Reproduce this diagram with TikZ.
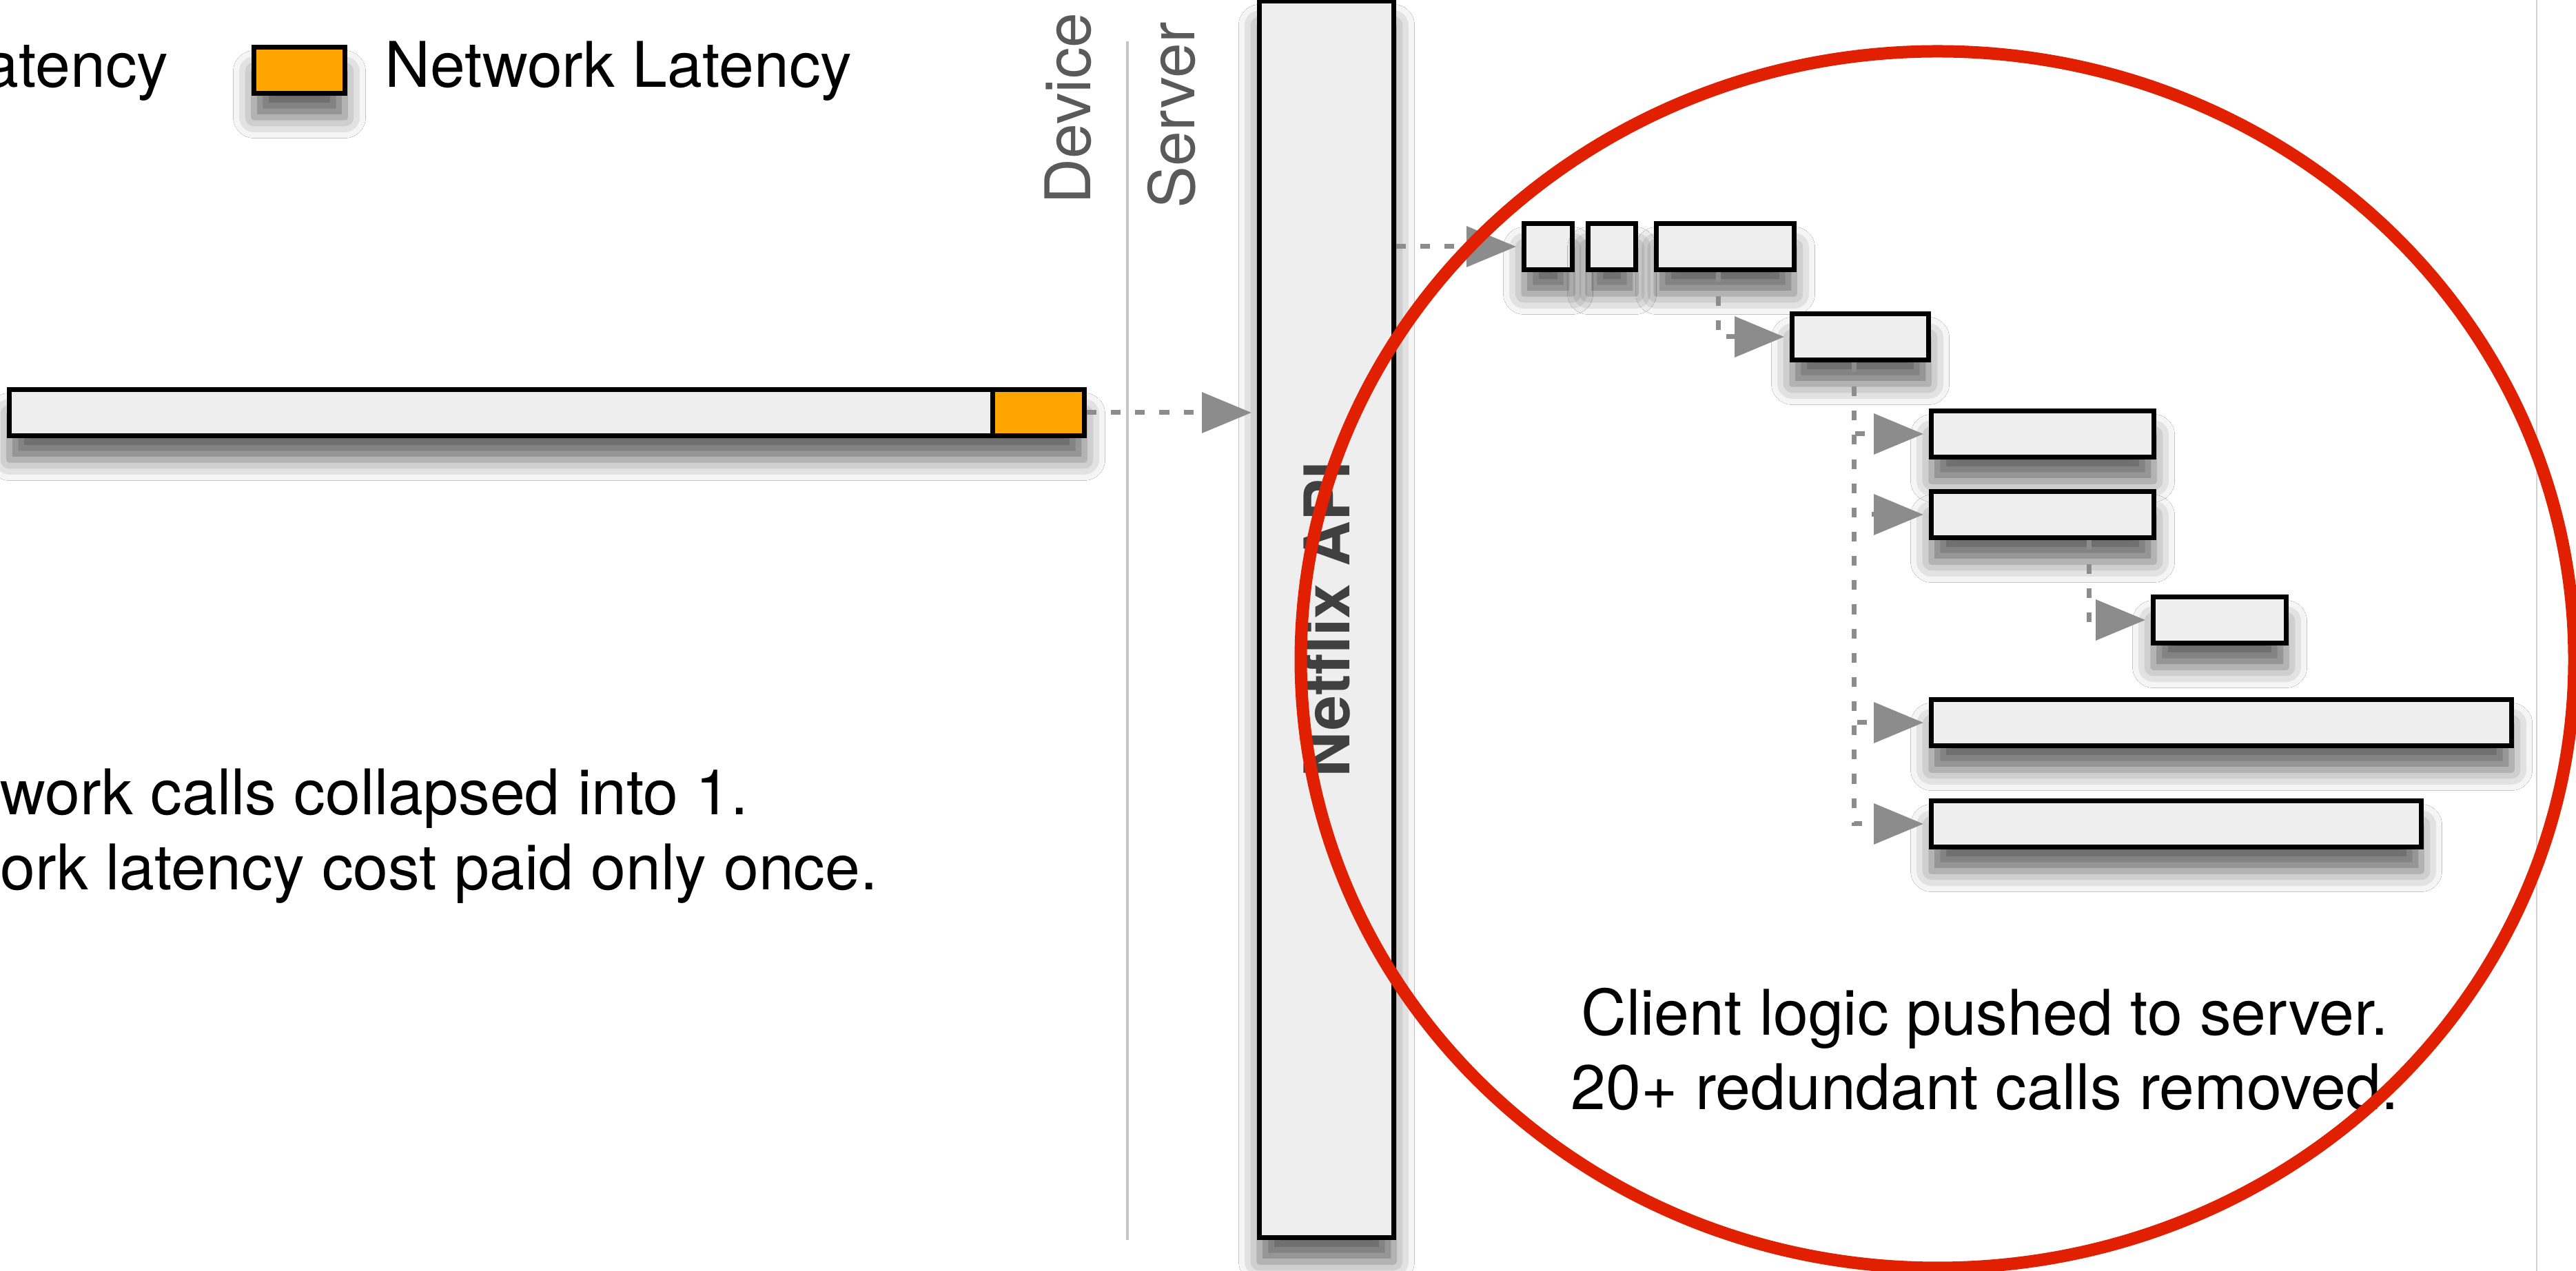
\documentclass[tikz,border=0pt]{standalone}
\usepackage{fontspec}
\setmainfont{TeX Gyre Heros}
\usetikzlibrary{arrows.meta,shadows.blur}
\definecolor{boxgray}{RGB}{238,238,238}
\definecolor{netorange}{RGB}{255,165,0}
\definecolor{linkgray}{RGB}{140,140,140}
\definecolor{circlered}{RGB}{224,32,0}
\definecolor{labelgray}{RGB}{90,90,90}
\tikzset{
 boxbase/.style={draw=black,line width=2pt,inner sep=0pt,minimum height=0.67cm,anchor=west},
 softshadow/.style={blur shadow={shadow xshift=0cm,shadow yshift=-0.35cm,shadow blur radius=0.3cm,shadow opacity=60}},
 callbox/.style={boxbase,fill=boxgray,softshadow},
 netbox/.style={boxbase,fill=netorange},
 link/.style={draw=linkgray,line width=2pt,dash pattern=on 4pt off 6pt,-{Triangle[length=0.72cm,width=0.58cm]},shorten >=0.08cm},
 caption/.style={font=\fontsize{26}{31}\selectfont,inner sep=0pt}
}
\begin{document}
\begin{tikzpicture}
 \clip (0,0) rectangle (37.38,18.45);
 \fill[white] (0,0) rectangle (37.38,18.45);
 \draw[gray!35,line width=0.8pt] (36.81,0) -- (36.81,18.45);
 % legend
 \node[caption,anchor=base east] (legclient) at (2.45,17.18) {atency};
 \node[netbox,softshadow,anchor=north west,minimum width=1.32cm] (legnet) at (3.65,17.80) {};
 \node[caption,anchor=base west] (legtext) at (5.58,17.18) {Network Latency};
 % device / server
 \draw[gray!45,line width=1.2pt] (16.36,17.85) -- (16.36,0.45);
 \node[caption,rotate=90,anchor=base west,text=labelgray] (device) at (15.82,15.48) {Device};
 \node[caption,rotate=90,anchor=base west,text=labelgray] (server) at (17.33,15.42) {Server};
 \node[callbox,anchor=south west,minimum width=1.95cm,minimum height=17.95cm] (api) at (18.24,0.45) {};
 \node[caption,rotate=90,font=\bfseries\fontsize{26}{31}\selectfont,text=black!75] (apilabel) at (api.center) {Netflix API};
 % single call from the device
 \node[callbox,minimum width=15.60cm] (devcall) at (0.10,12.46) {};
 \node[netbox,anchor=east,minimum width=1.33cm] (netcall) at (devcall.east) {};
 \draw[link] (devcall.east) -- (api.west |- devcall.east);
 % calls on the server
 \node[callbox,minimum width=0.70cm] (c1) at (22.08,14.87) {};
 \node[callbox,minimum width=0.69cm] (c2) at (23.01,14.87) {};
 \node[callbox,minimum width=2.00cm] (c3) at (24.00,14.87) {};
 \node[callbox,minimum width=1.98cm] (c4) at (25.97,13.56) {};
 \node[callbox,minimum width=3.23cm] (c5) at (27.99,12.15) {};
 \node[callbox,minimum width=3.23cm] (c6) at (27.99,10.98) {};
 \node[callbox,minimum width=1.93cm] (c7) at (31.21,9.45) {};
 \node[callbox,minimum width=8.42cm] (c8) at (27.99,7.96) {};
 \node[callbox,minimum width=7.11cm] (c9) at (27.99,6.49) {};
 \draw[link] (api.east |- c1.west) -- (c1.west);
 \draw[link] ([xshift=-0.1cm]c3.south) |- (c4.west);
 \foreach \n in {c5,c6,c8,c9}
  \draw[link] ([xshift=-0.09cm]c4.south) |- (\n.west);
 \draw[link] ([xshift=-0.98cm]c6.south east) |- (c7.west);
 % captions
 \node[caption,anchor=base west] (sum1) at (0,6.62) {work calls collapsed into 1.};
 \node[caption,anchor=base west] (sum2) at (0,5.53) {ork latency cost paid only once.};
 \node[caption,anchor=base] (push1) at (28.80,3.42) {Client logic pushed to server.};
 \node[caption,anchor=base] (push2) at (28.80,2.34) {20+ redundant calls removed.};
 \draw[circlered,line width=0.18cm] (28.115,8.875) ellipse [x radius=9.24cm,y radius=8.83cm];
\end{tikzpicture}
\end{document}
